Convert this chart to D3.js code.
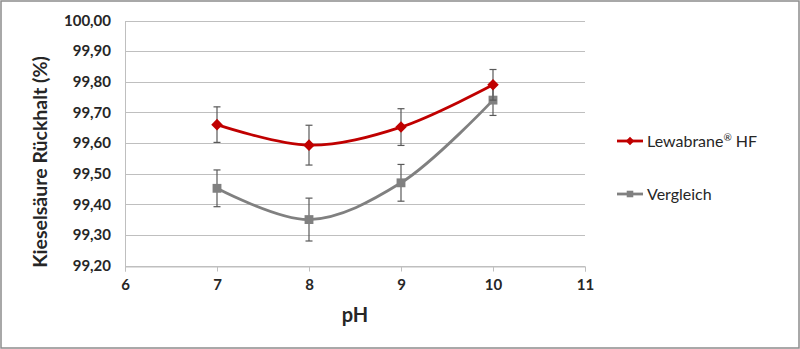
<!DOCTYPE html>
<html><head><meta charset="utf-8">
<script src="https://cdn.jsdelivr.net/npm/d3@7"></script>
<style>body{margin:0;background:#fff}svg{display:block}</style>
</head><body>
<script>
const phValues = [7, 8, 9, 10];
const seriesNames = ["Lewabrane® HF", "Vergleich"];
const lewabrane = [99.66, 99.593, 99.652, 99.79];
const lewabraneErr = [0.058, 0.065, 0.06, 0.05];
const vergleich = [99.452, 99.35, 99.47, 99.74];
const vergleichErr = [0.06, 0.07, 0.06, 0.05];
const xTicks = [6, 7, 8, 9, 10, 11];
const yTicks = [99.2, 99.3, 99.4, 99.5, 99.6, 99.7, 99.8, 99.9, 100.0];

const W = 800, H = 349;
const font = "Lato, 'Open Sans', sans-serif";
const svg = d3.select("body").append("svg").attr("width", W).attr("height", H);
svg.append("rect").attr("x", 1).attr("y", 1).attr("width", W - 2).attr("height", H - 2)
  .attr("fill", "#fff").attr("stroke", "#8c8c8c").attr("stroke-width", 1.5);

const x = d3.scaleLinear().domain([6, 11]).range([125, 585]);
const y = d3.scaleLinear().domain([99.2, 100.0]).range([265.5, 20.5]);

// gridlines
svg.append("g").selectAll("line").data(yTicks).join("line")
  .attr("x1", x(6)).attr("x2", x(11))
  .attr("y1", d => Math.round(y(d)) + 0.5).attr("y2", d => Math.round(y(d)) + 0.5)
  .attr("stroke", "#bfbfbf").attr("stroke-width", 1);

// axes
const yAxis = d3.axisLeft(y).tickValues(yTicks).tickSize(0).tickPadding(14)
  .tickFormat(d => d3.format(".2f")(d).replace(".", ","));
const gy = svg.append("g").attr("transform", `translate(${x(6)},0)`).call(yAxis);
gy.select(".domain").attr("stroke", "#bfbfbf");
gy.selectAll("text").attr("font-family", font).attr("font-size", 15).attr("font-weight", "bold").attr("fill", "#262626");

const xAxis = d3.axisBottom(x).tickValues(xTicks).tickSize(5).tickPadding(8).tickFormat(d3.format("d"));
const gx = svg.append("g").attr("transform", `translate(0,${Math.round(y(99.2)) + 0.5})`).call(xAxis);
gx.select(".domain").attr("stroke", "#bfbfbf");
gx.selectAll(".tick line").attr("stroke", "#bfbfbf");
gx.selectAll("text").attr("font-family", font).attr("font-size", 15).attr("font-weight", "bold").attr("fill", "#262626");

// titles
svg.append("text").attr("x", 355).attr("y", 322).attr("text-anchor", "middle")
  .attr("font-family", font).attr("font-size", 20).attr("font-weight", "bold").attr("fill", "#262626").text("pH");
svg.append("text").attr("transform", `translate(47,162) rotate(-90)`).attr("text-anchor", "middle")
  .attr("font-family", font).attr("font-size", 19.5).attr("font-weight", "bold").attr("fill", "#262626")
  .text("Kieselsäure Rückhalt (%)");

const series = [
  {name: seriesNames[0], vals: lewabrane, err: lewabraneErr, color: "#c00000", shape: d3.symbolDiamond2, size: 85},
  {name: seriesNames[1], vals: vergleich, err: vergleichErr, color: "#808080", shape: d3.symbolSquare2, size: 100}
];
const line = d3.line().x(d => x(d[0])).y(d => y(d[1])).curve(d3.curveCatmullRom.alpha(0.5));

// draw lines (gray first, red over)
[series[1], series[0]].forEach(s => {
  const pts = phValues.map((p, i) => [p, s.vals[i]]);
  const g = svg.append("g");
  g.append("path").attr("d", line(pts)).attr("fill", "none").attr("stroke", s.color).attr("stroke-width", 2.8);
  // error bars
  pts.forEach((p, i) => {
    const cx = x(p[0]);
    const y1 = y(p[1] + s.err[i]), y2 = y(p[1] - s.err[i]);
    g.append("line").attr("x1", cx).attr("x2", cx).attr("y1", y1).attr("y2", y2).attr("stroke", "#595959").attr("stroke-width", 1.2);
    [y1, y2].forEach(yy => g.append("line").attr("x1", cx - 3.5).attr("x2", cx + 3.5).attr("y1", yy).attr("y2", yy).attr("stroke", "#595959").attr("stroke-width", 1.2));
  });
  g.selectAll(".m").data(pts).join("path")
    .attr("transform", d => `translate(${x(d[0])},${y(d[1])})`)
    .attr("d", d3.symbol().type(s.shape).size(s.size)).attr("fill", s.color);
});

// legend
series.forEach((s, i) => {
  const ly = 141 + i * 53;
  const g = svg.append("g");
  g.append("line").attr("x1", 617).attr("x2", 643).attr("y1", ly).attr("y2", ly).attr("stroke", s.color).attr("stroke-width", 2.8);
  g.append("path").attr("transform", `translate(630,${ly})`).attr("d", d3.symbol().type(s.shape).size(s.size * 0.55)).attr("fill", s.color);
  const t = g.append("text").attr("x", 647).attr("y", ly + 5.5).attr("font-family", font).attr("font-size", 16).attr("fill", "#262626");
  if (s.name.includes("®")) {
    const parts = s.name.split("®");
    t.append("tspan").text(parts[0]);
    t.append("tspan").attr("font-size", 10).attr("dy", -6).text("®");
    t.append("tspan").attr("dy", 6).text(parts[1]);
  } else t.text(s.name);
});
</script>
</body></html>
